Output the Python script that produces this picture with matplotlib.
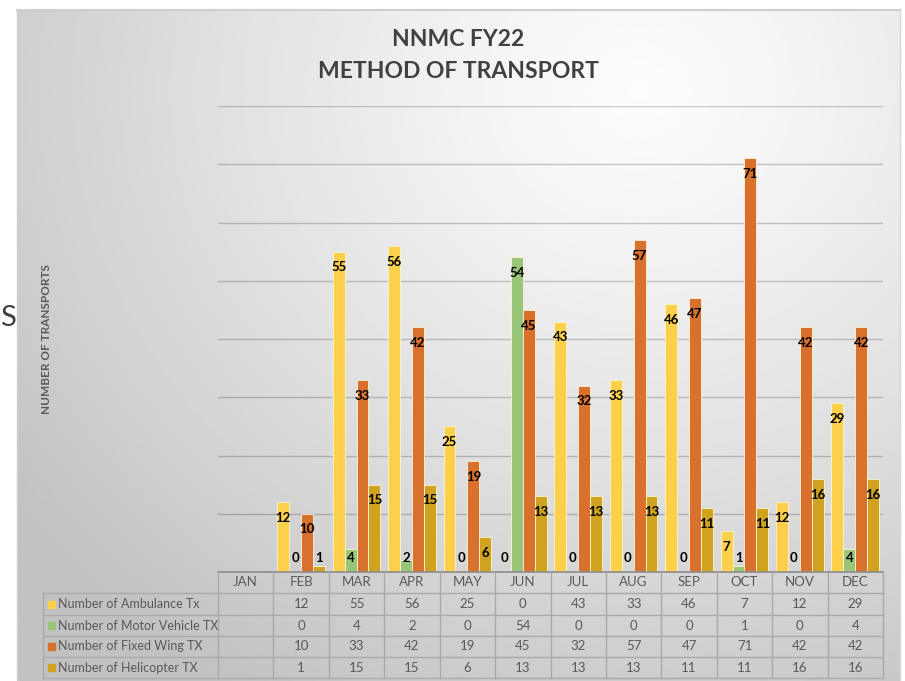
import numpy as np
import matplotlib.pyplot as plt

# data
months = ['JAN', 'FEB', 'MAR', 'APR', 'MAY', 'JUN', 'JUL', 'AUG', 'SEP', 'OCT', 'NOV', 'DEC']
ambulance = [np.nan, 12, 55, 56, 25, 0, 43, 33, 46, 7, 12, 29]
motor_vehicle = [np.nan, 0, 4, 2, 0, 54, 0, 0, 0, 1, 0, 4]
fixed_wing = [np.nan, 10, 33, 42, 19, 45, 32, 57, 47, 71, 42, 42]
helicopter = [np.nan, 1, 15, 15, 6, 13, 13, 13, 11, 11, 16, 16]
series_names = ['Number of Ambulance Tx', 'Number of Motor Vehicle TX',
                'Number of Fixed Wing TX', 'Number of Helicopter TX']
series = [ambulance, motor_vehicle, fixed_wing, helicopter]
colors = ['#FCD04B', '#98C577', '#D9712E', '#CFA21F']

W, H = 905, 681
plt.rcParams['font.family'] = ['Lato', 'DejaVu Sans']
fig = plt.figure(figsize=(W / 100, H / 100), dpi=100)

# gradient background of the chart area
bg = fig.add_axes([0, 0, 1, 1], zorder=0)
bg.set_xlim(0, W)
bg.set_ylim(H, 0)
bg.axis('off')
gx, gy = np.meshgrid(np.linspace(17, 900, 300), np.linspace(10, H, 300))
r = np.sqrt((gx - 640) ** 2 + ((gy - 90) * 1.1) ** 2)
shade = np.clip(0.99 - 0.21 * (r / 720) ** 1.2, 0.76, 1.0)
bg.imshow(shade, cmap='gray', vmin=0, vmax=1, extent=(17, 900, H, 10),
          aspect='auto', interpolation='bilinear')
bg.plot([17, 900], [10, 10], color='#cfcfcf', lw=1.5)
bg.plot([17, 17], [10, H], color='#cfcfcf', lw=1)
bg.plot([900, 900], [10, H], color='#d8d8d8', lw=1)

# bar chart
ax = fig.add_axes([218 / W, (H - 572) / H, 665 / W, (572 - 106) / H], zorder=1)
ax.patch.set_alpha(0)
x = np.arange(len(months))
bw = 0.215
for i, (vals, c) in enumerate(zip(series, colors)):
    vals = np.array(vals, dtype=float)
    pos = x + (i - 1.5) * bw
    ax.bar(pos, vals, width=bw, color=c, edgecolor='#fff5d6', linewidth=0.6, zorder=3)
    for px, v in zip(pos, vals):
        if np.isnan(v):
            continue
        ax.text(px, max(v - 2.7, 2.4), f'{int(v)}', ha='center', va='center',
                fontsize=9.5, fontweight='bold', color='black', zorder=4)
ax.set_xlim(-0.5, len(months) - 0.5)
ax.set_ylim(0, 80)
for g in range(10, 81, 10):
    ax.axhline(g, color='black', alpha=0.2, lw=1, zorder=1)
for s in ax.spines.values():
    s.set_visible(False)
ax.set_xticks([])
ax.set_yticks([])

# overlay in pixel coordinates for titles and data table
ov = fig.add_axes([0, 0, 1, 1], zorder=2)
ov.patch.set_alpha(0)
ov.set_xlim(0, W)
ov.set_ylim(H, 0)
ov.axis('off')

ov.text(458, 40, 'NNMC FY22', ha='center', va='center', fontsize=16.5,
        fontweight='bold', color='#404040')
ov.text(458, 72, 'METHOD OF TRANSPORT', ha='center', va='center', fontsize=16.5,
        fontweight='bold', color='#404040')
ov.text(46, 339, 'NUMBER OF TRANSPORTS', ha='center', va='center', rotation=90,
        fontsize=8.5, fontweight='bold', color='#595959')
ov.text(0, 318, 'S', ha='left', va='center', fontsize=21, color='#404040')

# column edges from the bar axes scale
edges = [ax.transData.transform((k - 0.5, 0))[0] for k in range(len(months) + 1)]
left = 43
rows = [572, 593, 615, 636, 657, 678]
line_c = '#a9a9a9'
tc = '#595959'

ov.plot([edges[0], edges[-1]], [rows[0], rows[0]], color='#8c8c8c', lw=1.2)
for yl in rows[1:]:
    ov.plot([left, edges[-1]], [yl, yl], color=line_c, lw=1)
for xe in edges:
    ov.plot([xe, xe], [rows[0], rows[-1]], color=line_c, lw=1)
ov.plot([left, left], [rows[1], rows[-1]], color=line_c, lw=1)

for k, m in enumerate(months):
    cx = (edges[k] + edges[k + 1]) / 2
    ov.text(cx, (rows[0] + rows[1]) / 2, m, ha='center', va='center', fontsize=9.5, color=tc)
for j, (name, vals, c) in enumerate(zip(series_names, series, colors)):
    cy = (rows[j + 1] + rows[j + 2]) / 2
    ov.add_patch(plt.Rectangle((48, cy - 3.5), 7, 7, color=c))
    ov.text(58, cy, name, ha='left', va='center', fontsize=9, color=tc)
    for k, v in enumerate(vals):
        if np.isnan(v):
            continue
        cx = (edges[k] + edges[k + 1]) / 2
        ov.text(cx, cy, f'{int(v)}', ha='center', va='center', fontsize=9.5, color=tc)

fig.savefig('out.png', dpi=100)
